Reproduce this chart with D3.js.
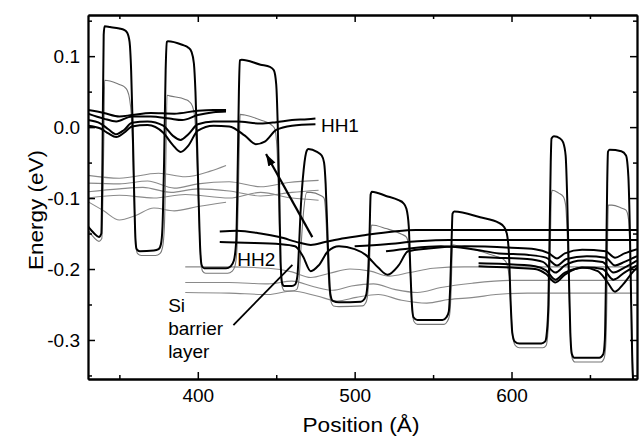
<!DOCTYPE html>
<html>
<head>
<meta charset="utf-8">
<script src="https://cdn.jsdelivr.net/npm/d3@7"></script>
<style>
body { margin: 0; background: #fff; }
text { font-family: "Liberation Sans", Arial, Helvetica, sans-serif; }
</style>
</head>
<body>
<script>
var width = 640, height = 440;
var margin = {top: 15, right: 3, bottom: 61, left: 88};

// axes
var xTicks = [400, 500, 600];
var xMinor = [350, 450, 550, 650];
var yTicks = [0.1, 0.0, -0.1, -0.2, -0.3];
var yMinor = [0.15, 0.05, -0.05, -0.15, -0.25, -0.35];

// heavy hole band edge (thick black)  [position, energy]
var hhEdge = [[330,-0.140],[334,-0.150],[337,-0.155],[338.5,-0.150],[339.2,-0.05],[340,0.13],[340.6,0.142],[344,0.141],[350,0.139],[353,0.137],[355,0.133],[356.5,0.12],[357.5,0.08],[358.5,0.0],[359.5,-0.10],[360.3,-0.16],[361,-0.172],[363,-0.175],[372,-0.174],[375,-0.172],[376.5,-0.165],[377.5,-0.14],[378.5,-0.05],[379.5,0.08],[380.3,0.12],[381,0.121],[390,0.116],[394,0.112],[396,0.106],[397.5,0.09],[398.5,0.05],[399.5,-0.02],[400.5,-0.10],[401.5,-0.17],[402.5,-0.195],[404,-0.199],[418,-0.199],[421,-0.196],[423,-0.188],[424.5,-0.16],[425.5,-0.05],[426.2,0.05],[426.8,0.094],[428,0.095],[440,0.088],[446,0.085],[448.5,0.080],[450,0.06],[451,0.0],[452,-0.10],[452.8,-0.19],[453.8,-0.22],[455,-0.224],[460,-0.224],[462,-0.222],[463.5,-0.21],[464.5,-0.17],[465.5,-0.12],[467.5,-0.06],[469.5,-0.033],[470.5,-0.031],[476,-0.035],[479,-0.04],[480.5,-0.05],[481.5,-0.08],[482.5,-0.14],[483.5,-0.20],[484.5,-0.235],[486,-0.245],[490,-0.247],[504,-0.246],[506,-0.243],[507.5,-0.235],[508.5,-0.21],[509.5,-0.15],[510.2,-0.095],[511,-0.091],[520,-0.097],[528,-0.103],[531,-0.107],[533,-0.115],[534.5,-0.14],[535.5,-0.20],[536.5,-0.25],[537.5,-0.268],[540,-0.272],[556,-0.272],[558.5,-0.268],[560,-0.26],[561,-0.22],[561.8,-0.16],[562.4,-0.122],[563.5,-0.119],[580,-0.127],[592,-0.135],[595,-0.140],[597,-0.15],[598.4,-0.18],[599.5,-0.25],[600.5,-0.29],[602,-0.302],[605,-0.305],[619,-0.305],[621.5,-0.302],[622.5,-0.29],[623.5,-0.25],[624.3,-0.15],[625,-0.05],[625.5,-0.016],[627,-0.013],[631,-0.016],[633,-0.022],[634.5,-0.04],[635.5,-0.10],[636.5,-0.20],[637.5,-0.29],[638.5,-0.32],[640,-0.325],[656,-0.325],[658.5,-0.32],[659.5,-0.30],[660.3,-0.20],[661,-0.08],[661.5,-0.035],[662.5,-0.032],[670,-0.034],[673,-0.04],[674.5,-0.07],[675.5,-0.15],[676.3,-0.25],[677,-0.33],[678,-0.37]];

// light hole band edge (thin)
var lhEdge = [[330,-0.145],[334,-0.156],[337,-0.161],[338.8,-0.157],[339.5,-0.10],[340.2,0.0],[340.6,0.066],[344,0.065],[350,0.060],[353,0.057],[355,0.052],[356.5,0.04],[357.5,0.02],[358.5,-0.03],[359.5,-0.11],[360.5,-0.165],[361.5,-0.178],[364,-0.181],[373,-0.181],[376,-0.178],[377.5,-0.17],[378.7,-0.14],[379.6,-0.05],[380.4,0.045],[382,0.044],[392,0.039],[394.5,0.036],[396.5,0.03],[398,0.015],[399.2,-0.03],[400.5,-0.11],[401.7,-0.18],[403,-0.203],[405,-0.206],[419,-0.206],[422,-0.203],[423.8,-0.195],[425,-0.17],[425.8,-0.10],[426.5,-0.02],[427,0.018],[430,0.017],[440,0.01],[447,0.003],[449,-0.002],[450.5,-0.03],[451.5,-0.10],[452.6,-0.19],[453.8,-0.225],[455.5,-0.231],[460,-0.231],[463,-0.229],[464.5,-0.215],[465.5,-0.18],[467,-0.13],[469.5,-0.092],[472,-0.092],[478,-0.096],[480.5,-0.10],[481.5,-0.12],[482.5,-0.17],[483.5,-0.22],[484.8,-0.245],[486.5,-0.252],[490,-0.253],[505,-0.252],[507,-0.248],[508.3,-0.236],[509.3,-0.2],[510.2,-0.15],[510.8,-0.138],[520,-0.143],[530,-0.151],[533,-0.155],[534.5,-0.17],[535.6,-0.21],[536.6,-0.255],[537.8,-0.274],[540,-0.278],[557,-0.278],[559,-0.274],[560.5,-0.265],[561.5,-0.23],[562,-0.19],[562.5,-0.166],[565,-0.167],[580,-0.175],[590,-0.182],[594,-0.185],[596.5,-0.19],[598.5,-0.21],[599.7,-0.26],[600.8,-0.296],[602.5,-0.308],[605,-0.311],[620,-0.311],[622,-0.308],[623,-0.295],[624,-0.25],[624.8,-0.16],[625.4,-0.095],[626,-0.089],[630,-0.093],[633,-0.098],[634.5,-0.11],[635.5,-0.15],[636.5,-0.22],[637.7,-0.30],[638.7,-0.326],[640.5,-0.331],[657,-0.331],[659,-0.326],[660,-0.31],[660.8,-0.24],[661.3,-0.15],[661.7,-0.11],[664,-0.11],[670,-0.114],[673,-0.117],[674.6,-0.13],[675.6,-0.18],[676.5,-0.26],[677.3,-0.34],[678.2,-0.37]];

// heavy hole levels, top group (thick)
var hhTopA = [[330,0.024],[340,0.020],[350,0.015],[358,0.017],[370,0.020],[385,0.019],[400,0.023],[410,0.024],[418,0.024]];
var hhTopB = [[330,0.019],[340,0.012],[348,0.008],[358,0.015],[370,0.015],[382,0.012],[390,0.010],[400,0.017],[410,0.021],[418,0.022]];
var hh1A = [[330,0.010],[338,0.005],[343,-0.003],[348,-0.010],[353,-0.004],[358,0.006],[368,0.008],[378,0.002],[384,-0.012],[389,-0.018],[394,-0.010],[400,0.004],[410,0.008],[425,0.008],[440,0.005],[450,0.007],[460,0.010],[470,0.011],[475,0.012]];
var hh1B = [[330,0.002],[338,-0.002],[343,-0.009],[348,-0.014],[353,-0.008],[358,0.001],[368,0.003],[378,-0.008],[384,-0.025],[389,-0.035],[394,-0.026],[400,-0.005],[410,0.002],[420,0.001],[430,-0.012],[437,-0.024],[443,-0.020],[450,-0.004],[460,0.002],[475,0.004]];

// heavy hole levels, HH2 group (thick)
var hh2A = [[414,-0.147],[425,-0.146],[440,-0.150],[452,-0.155],[465,-0.163],[472,-0.166],[481,-0.162],[492,-0.157],[507,-0.152],[525,-0.147],[539,-0.145],[680,-0.145]];
var hh2B = [[414,-0.162],[430,-0.163],[453,-0.165],[462,-0.168],[467,-0.182],[472,-0.203],[477,-0.195],[483,-0.175],[490,-0.168],[500,-0.172],[507,-0.180],[515,-0.198],[521,-0.208],[528,-0.195],[534,-0.175],[547,-0.171],[570,-0.168],[600,-0.170],[615,-0.172],[624,-0.178],[629,-0.185],[634,-0.178],[645,-0.173],[660,-0.175],[666,-0.184],[672,-0.178],[680,-0.172]];
var hh2C = [[520,-0.175],[535,-0.171],[555,-0.168],[575,-0.172],[592,-0.178],[610,-0.180],[622,-0.184],[629,-0.195],[635,-0.186],[648,-0.182],[660,-0.184],[666,-0.195],[672,-0.190],[680,-0.182]];
var hh2D = [[500,-0.168],[520,-0.165],[540,-0.161],[560,-0.159],[680,-0.159]];
var hh2E = [[579,-0.183],[590,-0.184],[610,-0.186],[620,-0.190],[628,-0.205],[634,-0.195],[645,-0.188],[658,-0.190],[665,-0.205],[672,-0.198],[680,-0.188]];
var hh2F = [[579,-0.192],[595,-0.193],[615,-0.196],[622,-0.202],[628,-0.215],[634,-0.205],[648,-0.198],[658,-0.200],[665,-0.215],[672,-0.205],[680,-0.195]];
var hh2G = [[579,-0.196],[600,-0.198],[615,-0.200],[622,-0.207],[628,-0.219],[634,-0.208],[645,-0.198],[655,-0.203],[661,-0.218],[666,-0.232],[671,-0.222],[677,-0.205],[680,-0.198]];

// other levels (thin grey)
var grey1 = [[330,-0.068],[350,-0.072],[375,-0.065],[392,-0.070],[408,-0.062],[418,-0.054]];
var grey2 = [[330,-0.079],[350,-0.080],[368,-0.076],[385,-0.086],[400,-0.080],[420,-0.077],[440,-0.084],[458,-0.078],[477,-0.075]];
var grey3 = [[330,-0.091],[350,-0.087],[365,-0.085],[383,-0.092],[400,-0.087],[420,-0.090],[440,-0.097],[460,-0.092],[477,-0.089]];
var grey4 = [[330,-0.100],[350,-0.096],[372,-0.100],[392,-0.095],[420,-0.100],[440,-0.092],[460,-0.100],[477,-0.103]];
var grey5 = [[330,-0.105],[340,-0.118],[350,-0.131],[360,-0.125],[372,-0.114],[385,-0.118],[400,-0.112],[418,-0.106]];
var grey6 = [[392,-0.197],[420,-0.197],[445,-0.199],[460,-0.204],[472,-0.212],[484,-0.206],[497,-0.200],[510,-0.203],[522,-0.210],[535,-0.205],[550,-0.199],[570,-0.197],[680,-0.197]];
var grey7 = [[392,-0.219],[420,-0.219],[445,-0.221],[460,-0.217],[474,-0.225],[486,-0.230],[498,-0.224],[512,-0.221],[526,-0.229],[540,-0.233],[555,-0.226],[575,-0.220],[600,-0.216],[680,-0.216]];
var grey8 = [[392,-0.233],[420,-0.234],[445,-0.236],[460,-0.231],[476,-0.238],[489,-0.245],[501,-0.240],[515,-0.236],[530,-0.244],[546,-0.248],[560,-0.243],[576,-0.240],[590,-0.236],[610,-0.234],[680,-0.234]];

// annotations
var arrowHH = [[473,-0.155],[443.5,-0.038]];
var barrierLine = [[422.7,-0.279],[460.3,-0.194]];
var labels = [
  {text: "HH1", x: 478.5, y: -0.0066},
  {text: "HH2", x: 425.2, y: -0.196},
  {text: "Si", x: 381.1, y: -0.260},
  {text: "barrier", x: 381.1, y: -0.293},
  {text: "layer", x: 381.1, y: -0.325}
];

var x = d3.scaleLinear().domain([330, 680]).range([margin.left, width - margin.right]);
var y = d3.scaleLinear().domain([-0.355, 0.158]).range([height - margin.bottom, margin.top]);

var svg = d3.select("body").append("svg")
            .attr("width", width)
            .attr("height", height);

svg.append("defs").append("clipPath")
   .attr("id", "plot")
   .append("rect")
   .attr("x", margin.left).attr("y", margin.top)
   .attr("width", width - margin.left - margin.right)
   .attr("height", height - margin.top - margin.bottom);

var defs = svg.select("defs");
defs.append("marker")
    .attr("id", "head")
    .attr("markerUnits", "userSpaceOnUse")
    .attr("markerWidth", 14).attr("markerHeight", 10)
    .attr("refX", 12).attr("refY", 4)
    .attr("orient", "auto")
    .append("path")
    .attr("d", "M0,0L12,4L0,8z")
    .attr("fill", "black");

var line = d3.line()
             .x(d => x(d[0]))
             .y(d => y(d[1]))
             .curve(d3.curveMonotoneX);

var plot = svg.append("g").attr("clip-path", "url(#plot)");

// grey levels
[grey1, grey2, grey3, grey4, grey5, grey6, grey7, grey8].forEach(function (d) {
  plot.append("path").attr("d", line(d))
      .attr("fill", "none").attr("stroke", "#8a8a8a").attr("stroke-width", 1.1);
});

// band edges
plot.append("path").attr("d", line(lhEdge))
    .attr("fill", "none").attr("stroke", "#777").attr("stroke-width", 1.1);
plot.append("path").attr("d", line(hhEdge))
    .attr("fill", "none").attr("stroke", "black").attr("stroke-width", 2);

// heavy hole levels
[hhTopA, hhTopB, hh1A, hh1B, hh2A, hh2B, hh2C, hh2D, hh2E, hh2F, hh2G].forEach(function (d) {
  plot.append("path").attr("d", line(d))
      .attr("fill", "none").attr("stroke", "black").attr("stroke-width", 2);
});

// arrows
plot.append("line")
    .attr("x1", x(arrowHH[0][0])).attr("y1", y(arrowHH[0][1]))
    .attr("x2", x(arrowHH[1][0])).attr("y2", y(arrowHH[1][1]))
    .attr("stroke", "black").attr("stroke-width", 2.2)
    .attr("marker-end", "url(#head)");
plot.append("line")
    .attr("x1", x(barrierLine[0][0])).attr("y1", y(barrierLine[0][1]))
    .attr("x2", x(barrierLine[1][0])).attr("y2", y(barrierLine[1][1]))
    .attr("stroke", "black").attr("stroke-width", 1.8);

// labels
svg.selectAll(".lab")
   .data(labels)
   .enter()
   .append("text")
   .attr("class", "lab")
   .attr("x", d => x(d.x))
   .attr("y", d => y(d.y))
   .attr("font-size", 19)
   .text(d => d.text);

// axes, ticks pointing inward on all sides
function styleAxis(g) {
  g.selectAll("line").attr("stroke-width", 1.5);
  g.select(".domain").attr("stroke-width", 1.8);
  g.selectAll("text").attr("font-size", 19).attr("fill", "black")
   .attr("font-family", "'Liberation Sans', Arial, sans-serif");
}

var bottom = height - margin.bottom, right = width - margin.right;

svg.append("g").attr("transform", "translate(0," + bottom + ")")
   .call(d3.axisBottom(x).tickValues(xTicks).tickSize(-7).tickSizeOuter(0).tickPadding(10).tickFormat(d3.format("d")))
   .call(styleAxis);
svg.append("g").attr("transform", "translate(0," + bottom + ")")
   .call(d3.axisBottom(x).tickValues(xMinor).tickSize(-4).tickSizeOuter(0).tickFormat(""))
   .call(styleAxis);
svg.append("g").attr("transform", "translate(0," + margin.top + ")")
   .call(d3.axisTop(x).tickValues(xTicks).tickSize(-7).tickSizeOuter(0).tickFormat(""))
   .call(styleAxis);
svg.append("g").attr("transform", "translate(0," + margin.top + ")")
   .call(d3.axisTop(x).tickValues(xMinor).tickSize(-4).tickSizeOuter(0).tickFormat(""))
   .call(styleAxis);

svg.append("g").attr("transform", "translate(" + margin.left + ",0)")
   .call(d3.axisLeft(y).tickValues(yTicks).tickSize(-7).tickSizeOuter(0).tickPadding(8).tickFormat(d => d.toFixed(1)))
   .call(styleAxis);
svg.append("g").attr("transform", "translate(" + margin.left + ",0)")
   .call(d3.axisLeft(y).tickValues(yMinor).tickSize(-4).tickSizeOuter(0).tickFormat(""))
   .call(styleAxis);
svg.append("g").attr("transform", "translate(" + right + ",0)")
   .call(d3.axisRight(y).tickValues(yTicks).tickSize(-7).tickSizeOuter(0).tickFormat(""))
   .call(styleAxis);
svg.append("g").attr("transform", "translate(" + right + ",0)")
   .call(d3.axisRight(y).tickValues(yMinor).tickSize(-4).tickSizeOuter(0).tickFormat(""))
   .call(styleAxis);

// axis titles
svg.append("text")
   .attr("x", 361).attr("y", 432)
   .attr("text-anchor", "middle")
   .attr("font-size", 20)
   .attr("textLength", 117).attr("lengthAdjust", "spacingAndGlyphs")
   .text("Position (\u00C5)");

svg.append("text")
   .attr("transform", "translate(43,210)rotate(-90)")
   .attr("text-anchor", "middle")
   .attr("font-size", 20)
   .attr("textLength", 120).attr("lengthAdjust", "spacingAndGlyphs")
   .text("Energy (eV)");
</script>
</body>
</html>
